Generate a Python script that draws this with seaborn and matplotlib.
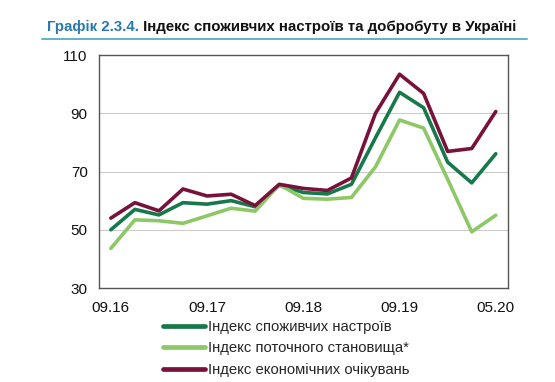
import matplotlib
matplotlib.use("Agg")
import matplotlib.pyplot as plt
from matplotlib.lines import Line2D
import pandas as pd
import seaborn as sns

periods = list(range(17))
consumer_sentiment = [50, 57, 55.1, 59.3, 58.8, 60, 57.9, 65.3, 62.8, 62.3,
                      65.6, 81.6, 97.2, 91.9, 73.2, 66.1, 76.1]
current_situation = [43.6, 53.4, 53.1, 52.2, 54.8, 57.4, 56.4, 65.5, 60.8, 60.5,
                     61.1, 71.6, 87.7, 84.9, 67.3, 49.3, 55]
economic_expect = [54, 59.3, 56.5, 64, 61.6, 62.2, 58.3, 65.6, 64.2, 63.5,
                   67.8, 90, 103.4, 96.8, 76.9, 77.9, 90.6]
tick_pos = [0, 4, 8, 12, 16]
tick_labels = ["09.16", "09.17", "09.18", "09.19", "05.20"]

names = ["Індекс споживчих настроїв",
         "Індекс поточного становища*",
         "Індекс економічних очікувань"]
colors = ["#17794a", "#8dc866", "#79123a"]

sns.set_style("white")
plt.rcParams["font.family"] = ["Liberation Sans", "DejaVu Sans"]

df = pd.concat([
    pd.DataFrame({"t": periods, "value": consumer_sentiment, "series": names[0]}),
    pd.DataFrame({"t": periods, "value": current_situation, "series": names[1]}),
    pd.DataFrame({"t": periods, "value": economic_expect, "series": names[2]}),
])

fig = plt.figure(figsize=(5.55, 3.82), dpi=100)
ax = fig.add_axes([0.178, 0.246, 0.737, 0.610])
sns.lineplot(data=df, x="t", y="value", hue="series", palette=colors,
             linewidth=2.6, ax=ax, legend=False)

ax.set_xlim(-0.5, 16.5)
ax.set_ylim(30, 110)
ax.set_yticks([30, 50, 70, 90, 110])
ax.yaxis.grid(True, color="#cccccc", linewidth=0.8)
ax.set_axisbelow(True)
ax.tick_params(axis="y", length=0, labelsize=11, pad=8, colors="#111111")
# tick marks between the points, labels on the points
ax.set_xticks([-0.5, 3.5, 7.5, 11.5, 15.5])
ax.set_xticklabels([])
ax.tick_params(axis="x", which="major", direction="in", length=4,
               color="#555555")
ax.set_xticks(tick_pos, minor=True)
ax.set_xticklabels(tick_labels, minor=True)
ax.tick_params(axis="x", which="minor", length=0, labelsize=11, pad=9,
               colors="#111111")
ax.set_xlabel("")
ax.set_ylabel("")
for s in ax.spines.values():
    s.set_visible(True)
    s.set_color("#555555")
    s.set_linewidth(1.0)

# title in two colours + underline
t1 = fig.text(47 / 555, 1 - 31 / 382, "Графік 2.3.4.", fontsize=10.8,
              fontweight="bold", color="#2a78ad", ha="left", va="baseline")
ax.annotate(" Індекс споживчих настроїв та добробуту в Україні",
            xy=(1, 0), xycoords=t1, fontsize=10.8, fontweight="bold",
            color="#111111", ha="left", va="bottom", annotation_clip=False)
fig.add_artist(Line2D([42 / 555, 527 / 555], [1 - 38.5 / 382] * 2,
                      color="#62b2c8", linewidth=1.4,
                      transform=fig.transFigure))

handles = [Line2D([], [], color=c, linewidth=3.4) for c in colors]
fig.legend(handles, names, loc="upper left",
           bbox_to_anchor=(163 / 555, 1 - 320 / 382), frameon=False,
           fontsize=10.7, handlelength=2.8, handletextpad=0.2,
           labelspacing=0.5, borderaxespad=0, borderpad=0)

fig.savefig("out.png", dpi=100)
